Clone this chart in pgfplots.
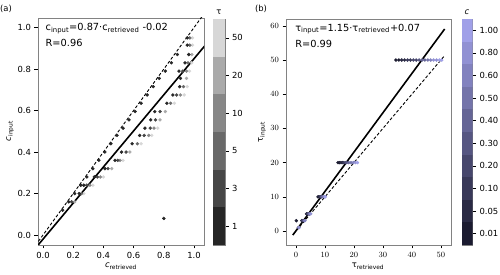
\documentclass[border=0pt]{standalone}
\usepackage{fontspec}
\setmainfont{DejaVu Sans}
\usepackage{pgfplots}
\pgfplotsset{compat=1.18}
\definecolor{cT0}{RGB}{38,38,38}
\definecolor{cT1}{RGB}{70,70,70}
\definecolor{cT2}{RGB}{105,105,105}
\definecolor{cT3}{RGB}{135,135,135}
\definecolor{cT4}{RGB}{170,170,170}
\definecolor{cT5}{RGB}{215,215,215}
\definecolor{cC0}{RGB}{27,27,48}
\definecolor{cC1}{RGB}{42,42,68}
\definecolor{cC2}{RGB}{57,57,89}
\definecolor{cC3}{RGB}{71,71,109}
\definecolor{cC4}{RGB}{86,86,130}
\definecolor{cC5}{RGB}{101,101,150}
\definecolor{cC6}{RGB}{116,116,170}
\definecolor{cC7}{RGB}{130,130,191}
\definecolor{cC8}{RGB}{145,145,211}
\definecolor{cC9}{RGB}{160,160,232}
\definecolor{frame}{RGB}{130,130,130}
\pgfplotsset{
  mainax/.style={scale only axis, anchor=south west, axis line style={frame, line width=0.7pt},
    tick style={black, line width=0.5pt}, tick align=outside, tick pos=left, major tick length=3.5pt,
    tick label style={font=\fontsize{8.4}{10}\selectfont}},
  cbax/.style={scale only axis, anchor=south west, axis line style={frame, line width=0.7pt},
    xmin=0, xmax=1, xtick=\empty, ytick pos=right, yticklabel pos=right, tick align=outside,
    tick style={black, line width=0.5pt}, major tick length=3.5pt,
    tick label style={font=\fontsize{8.4}{10}\selectfont}},
  dot/.style={only marks, mark=*, mark size=1.5pt, mark options={draw=#1, fill=#1}},
}
\newcommand{\lab}{\fontsize{8.4}{10}\selectfont}
\newcommand{\ann}{\fontsize{9.8}{12}\selectfont}
\begin{document}
\begin{tikzpicture}
\path[use as bounding box] (0pt,0pt) rectangle (500pt,275pt);
% ---------------- left panel
\begin{axis}[mainax, at={(38pt,30pt)}, width=166pt, height=227pt,
  xmin=-0.033, xmax=1.066, ymin=-0.048, ymax=1.046,
  xtick={0,0.2,0.4,0.6,0.8,1}, xticklabels={0.0,0.2,0.4,0.6,0.8,1.0},
  ytick={0,0.2,0.4,0.6,0.8,1}, yticklabels={0.0,0.2,0.4,0.6,0.8,1.0}]
\addplot[black, line width=0.9pt, dash pattern=on 3pt off 2pt] coordinates {(-0.05,-0.05) (1.08,1.08)};
\addplot[black, line width=1.6pt] coordinates {(-0.05,-0.0635) (1.08,0.9196)};
% tau = 50
\addplot[dot=cT5] coordinates {(0.99,0.95) (0.99,0.915) (0.985,0.83) (0.97,0.79) (0.955,0.715) (0.935,0.675) (0.87,0.635) (0.76,0.515) (0.72,0.48) (0.65,0.44) (0.53,0.36) (0.40,0.28) (0.33,0.24) (0.27,0.20)};
% tau = 20
\addplot[dot=cT4] coordinates {(0.985,0.87) (0.95,0.755) (0.81,0.595) (0.775,0.555) (0.575,0.40) (0.455,0.32) (0.21,0.16)};
% tau = 10
\addplot[dot=cT3] coordinates {(0.95,0.79) (0.91,0.675) (0.735,0.515) (0.70,0.48) (0.51,0.36) (0.38,0.28) (0.31,0.24)};
% tau = 5
\addplot[dot=cT2] coordinates {(0.972,0.95) (0.972,0.915) (0.96,0.83) (0.93,0.715) (0.845,0.635) (0.625,0.44) (0.255,0.20)};
% tau = 3
\addplot[dot=cT1] coordinates {(0.925,0.79) (0.885,0.675) (0.775,0.595) (0.745,0.555) (0.71,0.515) (0.67,0.48) (0.55,0.40) (0.495,0.36) (0.43,0.32) (0.36,0.28) (0.29,0.24) (0.19,0.16)};
% tau = 1
\addplot[dot=cT0] coordinates {
(0.13,0.12) (0.17,0.16) (0.21,0.20) (0.25,0.24) (0.29,0.28) (0.33,0.32)
(0.37,0.36) (0.41,0.40) (0.45,0.44) (0.49,0.48) (0.53,0.515) (0.57,0.555)
(0.61,0.595) (0.65,0.635) (0.69,0.675) (0.73,0.715) (0.77,0.755) (0.81,0.79)
(0.85,0.83) (0.89,0.87)
(0.955,0.95) (0.955,0.915) (0.965,0.87) (0.94,0.83) (0.90,0.79) (0.91,0.755) (0.905,0.715)
(0.86,0.675) (0.82,0.635) (0.74,0.595) (0.713,0.555) (0.675,0.515) (0.64,0.48) (0.59,0.44)
(0.52,0.40) (0.477,0.36) (0.41,0.32) (0.34,0.28) (0.27,0.24) (0.24,0.20)
(0.80,0.08)};
\node[anchor=west, inner sep=0pt] at (rel axis cs:0.045,0.955) {\ann c\textsubscript{input}=0.87·c\textsubscript{retrieved} -0.02};
\node[anchor=west, inner sep=0pt] at (rel axis cs:0.045,0.89) {\ann R=0.96};
\end{axis}
\begin{axis}[cbax, at={(213pt,30pt)}, width=12pt, height=226pt, ymin=0, ymax=6,
  ytick={0.5,1.5,2.5,3.5,4.5,5.5}, yticklabels={1,3,5,10,20,50}]
\addplot[fill=cT0, draw=none] coordinates {(0,0) (1,0) (1,1) (0,1)} -- cycle;
\addplot[fill=cT1, draw=none] coordinates {(0,1) (1,1) (1,2) (0,2)} -- cycle;
\addplot[fill=cT2, draw=none] coordinates {(0,2) (1,2) (1,3) (0,3)} -- cycle;
\addplot[fill=cT3, draw=none] coordinates {(0,3) (1,3) (1,4) (0,4)} -- cycle;
\addplot[fill=cT4, draw=none] coordinates {(0,4) (1,4) (1,5) (0,5)} -- cycle;
\addplot[fill=cT5, draw=none] coordinates {(0,5) (1,5) (1,6) (0,6)} -- cycle;
\end{axis}
% ---------------- right panel
\begin{axis}[mainax, at={(286pt,30pt)}, width=165pt, height=226pt,
  xmin=-3.45, xmax=53.5, ymin=-4.1, ymax=62,
  xtick={0,10,20,30,40,50}, ytick={0,10,20,30,40,50,60}]
\addplot[black, line width=0.9pt, dash pattern=on 3pt off 2pt] coordinates {(-1,-1) (51.3,51.3)};
\addplot[black, line width=1.6pt] coordinates {(-1.1,-1.195) (51.3,59.065)};
\addplot[dot=cC0] coordinates {(34.5,50) (35.5,50) (14.5,20) (15,20) (7.6,10) (3.6,5) (0.1,3)};
\addplot[dot=cC1] coordinates {(36.5,50) (37.5,50) (15.5,20) (16,20) (8,10) (2.0,3)};
\addplot[dot=cC2] coordinates {(38.5,50) (39.5,50) (16.5,20) (8.4,10) (3.9,5)};
\addplot[dot=cC3] coordinates {(40.5,50) (41.5,50) (17,20) (2.4,3)};
\addplot[dot=cC4] coordinates {(42.5,50) (17.5,20) (8.8,10) (4.3,5) (0.8,1)};
\addplot[dot=cC5] coordinates {(43.5,50) (44.5,50) (18.2,20) (2.8,3)};
\addplot[dot=cC6] coordinates {(45.5,50) (19,20) (9.3,10) (4.7,5)};
\addplot[dot=cC7] coordinates {(46.5,50) (19.8,20) (3.1,3)};
\addplot[dot=cC8] coordinates {(47.5,50) (48.5,50) (20.5,20) (9.8,10) (5.1,5) (1.1,1)};
\addplot[dot=cC9] coordinates {(49.5,50) (50.3,50) (21.2,20) (10.1,10)};
\node[anchor=west, inner sep=0pt] at (rel axis cs:0.055,0.955) {\ann τ\textsubscript{input}=1.15·τ\textsubscript{retrieved}+0.07};
\node[anchor=west, inner sep=0pt] at (rel axis cs:0.055,0.89) {\ann R=0.99};
\end{axis}
\begin{axis}[cbax, at={(462pt,30pt)}, width=10.5pt, height=226pt, ymin=0, ymax=10,
  ytick={0.5,1.5,2.5,3.5,4.5,5.5,6.5,7.5,8.5,9.5},
  yticklabels={0.01,0.05,0.10,0.20,0.30,0.40,0.50,0.60,0.80,1.00}]
\addplot[fill=cC0, draw=none] coordinates {(0,0) (1,0) (1,1) (0,1)} -- cycle;
\addplot[fill=cC1, draw=none] coordinates {(0,1) (1,1) (1,2) (0,2)} -- cycle;
\addplot[fill=cC2, draw=none] coordinates {(0,2) (1,2) (1,3) (0,3)} -- cycle;
\addplot[fill=cC3, draw=none] coordinates {(0,3) (1,3) (1,4) (0,4)} -- cycle;
\addplot[fill=cC4, draw=none] coordinates {(0,4) (1,4) (1,5) (0,5)} -- cycle;
\addplot[fill=cC5, draw=none] coordinates {(0,5) (1,5) (1,6) (0,6)} -- cycle;
\addplot[fill=cC6, draw=none] coordinates {(0,6) (1,6) (1,7) (0,7)} -- cycle;
\addplot[fill=cC7, draw=none] coordinates {(0,7) (1,7) (1,8) (0,8)} -- cycle;
\addplot[fill=cC8, draw=none] coordinates {(0,8) (1,8) (1,9) (0,9)} -- cycle;
\addplot[fill=cC9, draw=none] coordinates {(0,9) (1,9) (1,10) (0,10)} -- cycle;
\end{axis}
% ---------------- labels
\node at (6pt,266pt) {\lab (a)};
\node at (261pt,266pt) {\lab (b)};
\node at (219pt,263pt) {\lab τ};
\node at (467pt,263pt) {\lab\itshape c};
\node at (121pt,9pt) {\lab\textit{c}\textsubscript{retrieved}};
\node[rotate=90] at (10pt,144pt) {\lab\textit{c}\textsubscript{input}};
\node at (368pt,9pt) {\lab τ\textsubscript{retrieved}};
\node[rotate=90] at (262pt,143pt) {\lab τ\textsubscript{input}};
\end{tikzpicture}
\end{document}
